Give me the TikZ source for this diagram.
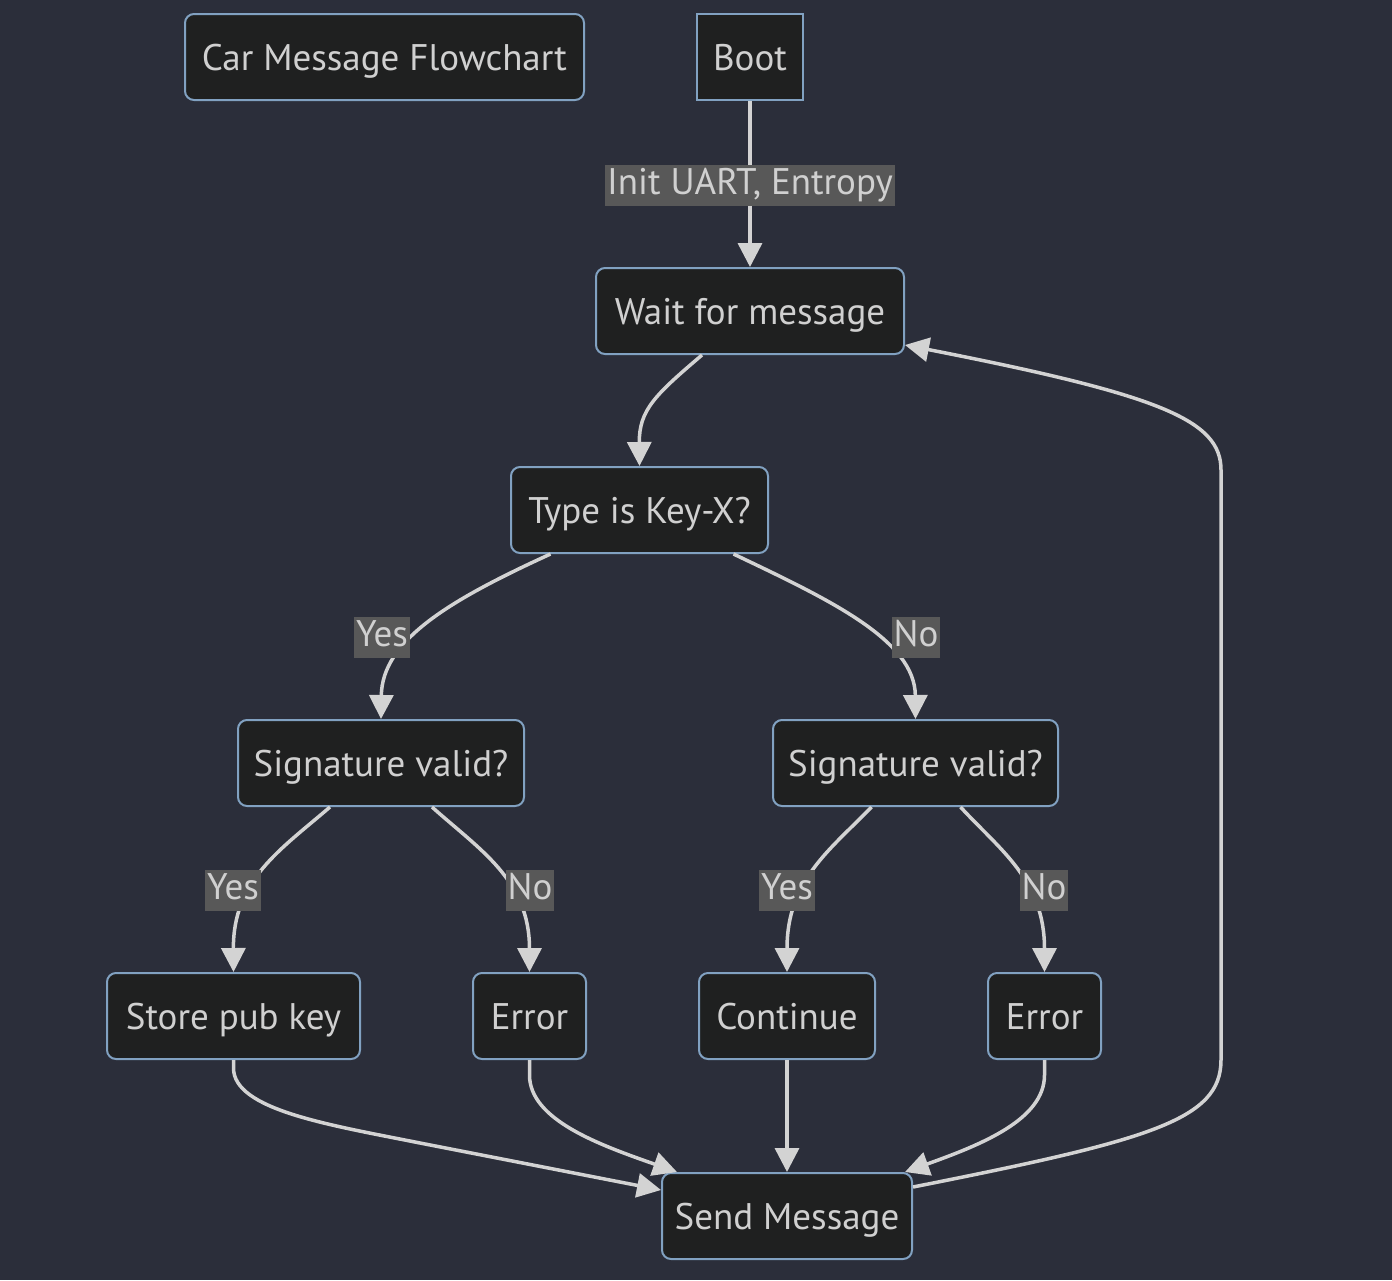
\documentclass[tikz,border=0pt]{standalone}
\usepackage{fontspec}
\setmainfont{PT Sans}
\usetikzlibrary{arrows.meta}
\definecolor{bgc}{HTML}{2B2E3A}
\definecolor{nodefill}{HTML}{1F2020}
\definecolor{nodeborder}{HTML}{81A1C1}
\definecolor{txt}{HTML}{D0D0D0}
\definecolor{edgec}{HTML}{D3D3D3}
\definecolor{lblbg}{HTML}{585858}
\tikzset{
  box/.style={draw=nodeborder, fill=nodefill, line width=2pt, rounded corners=9pt,
    minimum height=86pt, inner sep=0pt, text=txt, font=\fontsize{37}{42}\selectfont,
    text height=27pt, text depth=1pt},
  sqbox/.style={box, rounded corners=0pt},
  lbl/.style={fill=lblbg, text=txt, inner sep=2pt, font=\fontsize{37}{42}\selectfont,
    text height=28pt, text depth=9pt},
  conn/.style={draw=edgec, line width=3.5pt, -{Triangle[length=24pt,width=24pt]}}
}
\begin{document}
\begin{tikzpicture}[x=1pt,y=-1pt]
\fill[bgc] (0,0) rectangle (1392,1280);
\useasboundingbox (0,0) rectangle (1392,1280);

\node[box, minimum width=399pt] (title) at (384.5,57) {Car Message Flowchart};
\node[sqbox, minimum width=106pt] (boot) at (750,57) {Boot};
\node[box, minimum width=308pt] (wait) at (750,311) {Wait for message};
\node[box, minimum width=257pt] (type) at (639.5,510) {Type is Key-X?};
\node[box, minimum width=286pt] (sigl) at (381,763) {Signature valid?};
\node[box, minimum width=285pt] (sigr) at (915.5,763) {Signature valid?};
\node[box, minimum width=253pt] (store) at (233.5,1016) {Store pub key};
\node[box, minimum width=113pt] (err1) at (529.5,1016) {Error};
\node[box, minimum width=176pt] (cont) at (787,1016) {Continue};
\node[box, minimum width=113pt] (err2) at (1044.5,1016) {Error};
\node[box, minimum width=250pt] (send) at (787,1216) {Send Message};

% connectors
\draw[conn] (boot.south) -- (wait.north);
\draw[conn] ([xshift=-48pt]wait.south) .. controls (655,395) and (639,410) .. (type.north);
\draw[conn] ([xshift=-89pt]type.south) .. controls (450,600) and (382,640) .. (sigl.north);
\draw[conn] ([xshift=94pt]type.south) .. controls (830,600) and (915,640) .. (sigr.north);
\draw[conn] ([xshift=-51pt]sigl.south) .. controls (280,850) and (233,880) .. (store.north);
\draw[conn] ([xshift=51pt]sigl.south) .. controls (480,850) and (529.5,880) .. (err1.north);
\draw[conn] ([xshift=-44pt]sigr.south) .. controls (830,850) and (787,880) .. (cont.north);
\draw[conn] ([xshift=45pt]sigr.south) .. controls (1000,850) and (1044.5,880) .. (err2.north);
\draw[conn] (store.south) -- (233.5,1068) .. controls (233.5,1110) and (330,1125) .. (420,1143) -- ([yshift=26pt]send.west);
\draw[conn] (err1.south) -- (529.5,1075) .. controls (529.5,1120) and (600,1145) .. ([xshift=16pt]send.north west);
\draw[conn] (cont.south) -- (send.north);
\draw[conn] (err2.south) -- (1044.5,1075) .. controls (1044.5,1120) and (980,1145) .. ([xshift=-8pt]send.north east);
\draw[conn] ([yshift=29pt]send.east) .. controls (1150,1140) and (1221,1120) .. (1221,1060)
  -- (1221,470) .. controls (1221,420) and (1160,395) .. ([yshift=-34pt]wait.east);

% edge labels
\node[lbl] (l0) at (750,185) {Init UART, Entropy};
\node[lbl] (l1) at (382,637) {Yes};
\node[lbl] (l2) at (916,637) {No};
\node[lbl] (l3) at (233,890) {Yes};
\node[lbl] (l4) at (530,890) {No};
\node[lbl] (l5) at (787,890) {Yes};
\node[lbl] (l6) at (1044,890) {No};
\end{tikzpicture}
\end{document}
